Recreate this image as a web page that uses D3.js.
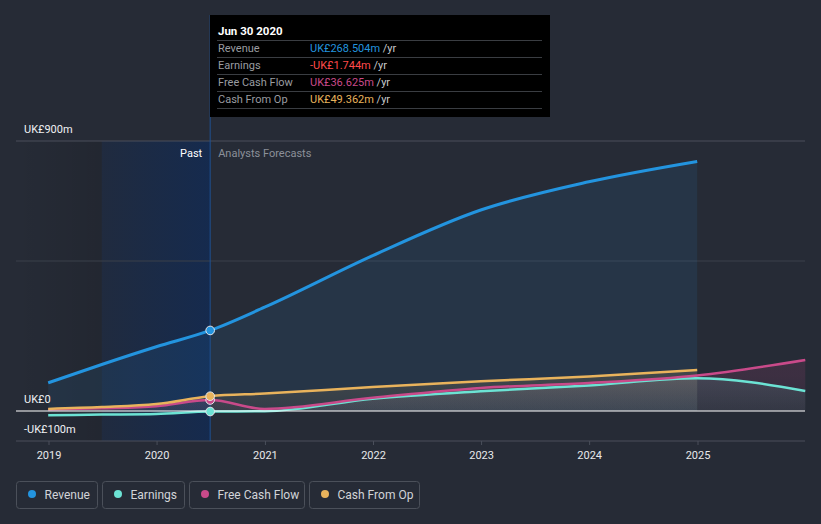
<!DOCTYPE html>
<html><head><meta charset="utf-8">
<script src="https://cdn.jsdelivr.net/npm/d3@7"></script>
<style>
html,body{margin:0;padding:0;background:#262b36;}
svg{display:block;font-family:Roboto,"Open Sans",sans-serif;}
</style></head>
<body>
<svg id="chart" width="821" height="524"></svg>
<script>
// ---- data ----
const revenueDates = ["2018-12-31","2019-06-30","2019-12-31","2020-06-30","2020-12-31","2021-12-31","2022-12-31","2023-12-31","2024-12-31"];
const revenueValues = [94, 155, 214, 268.504, 346, 518, 670, 764, 832];
const earningsDates = ["2018-12-31","2019-06-30","2019-12-31","2020-06-30","2020-12-31","2021-12-31","2022-12-31","2023-12-31","2024-12-31","2025-12-31"];
const earningsValues = [-14, -12, -10, -1.744, -1, 41, 66, 85, 109, 67];
const fcfDates = ["2018-12-31","2019-06-30","2019-12-31","2020-06-30","2020-12-31","2021-12-31","2022-12-31","2023-12-31","2024-12-31","2025-12-31"];
const fcfValues = [5, 9, 16, 36.625, 7, 44, 77, 93, 118, 170];
const cashOpDates = ["2018-12-31","2019-06-30","2019-12-31","2020-06-30","2020-12-31","2021-12-31","2022-12-31","2023-12-31","2024-12-31"];
const cashOpValues = [7, 13, 23, 49.362, 58, 80, 99, 115, 137];
const xTickYears = [2019, 2020, 2021, 2022, 2023, 2024, 2025];
const yTickValues = [900, 0, -100];
const yTickLabels = ["UK£900m", "UK£0", "-UK£100m"];
const seriesNames = ["Revenue", "Earnings", "Free Cash Flow", "Cash From Op"];
const seriesColors = ["#2394df", "#6ce3d4", "#c94a8a", "#e9b35c"];
const tooltipTitle = "Jun 30 2020";
const tooltipValues = ["UK£268.504m", "-UK£1.744m", "UK£36.625m", "UK£49.362m"];
const tooltipValueColors = ["#2394df", "#ff4a4a", "#c94a8a", "#e9b35c"];

const parse = d3.timeParse("%Y-%m-%d");
const mk = (ds, vs) => ds.map((d, i) => ({date: parse(d), value: vs[i]}));
const series = [
  mk(revenueDates, revenueValues),
  mk(earningsDates, earningsValues),
  mk(fcfDates, fcfValues),
  mk(cashOpDates, cashOpValues)
];
const nowDate = parse("2020-06-30");
const pastStart = parse("2019-06-30");

// ---- scales ----
const x = d3.scaleTime().domain([new Date(2019,0,1), new Date(2025,0,1)]).range([48.5, 697.5]);
const y = d3.scaleLinear().domain([-100, 900]).range([441, 141]);
const left = 16, right = 805;

const svg = d3.select("#chart");
const defs = svg.append("defs");

// past highlight gradient
const pg = defs.append("linearGradient").attr("id","pastGrad").attr("x1","0").attr("x2","1").attr("y1","0").attr("y2","0");
pg.append("stop").attr("offset","0").attr("stop-color","#0a2a5e").attr("stop-opacity",0.22);
pg.append("stop").attr("offset","1").attr("stop-color","#0a2a5e").attr("stop-opacity",0.6);
const dg = defs.append("linearGradient").attr("id","darkGrad").attr("x1","0").attr("x2","1").attr("y1","0").attr("y2","0");
dg.append("stop").attr("offset","0").attr("stop-color","#000").attr("stop-opacity",0.0);
dg.append("stop").attr("offset","1").attr("stop-color","#000").attr("stop-opacity",0.1);

svg.append("rect").attr("x", left).attr("y", 141).attr("width", x(pastStart) - left).attr("height", 300).attr("fill","url(#darkGrad)");
svg.append("rect").attr("x", x(pastStart)).attr("y", 141).attr("width", x(nowDate) - x(pastStart)).attr("height", 300).attr("fill","url(#pastGrad)");

// grid lines
[900, 500].forEach(v => {
  svg.append("line").attr("x1", left).attr("x2", right).attr("y1", y(v)).attr("y2", y(v))
    .attr("stroke", v === 900 ? "#4a4f5b" : "#3b404b").attr("stroke-width", 1);
});

// area fills
series.forEach((s, i) => {
  let fill;
  if (i === 0) {
    fill = seriesColors[0];
  } else {
    const gid = "g" + i;
    const g = defs.append("linearGradient").attr("id", gid).attr("gradientUnits","userSpaceOnUse")
      .attr("x1",0).attr("x2",0).attr("y1", y(120)).attr("y2", y(0));
    g.append("stop").attr("offset","0").attr("stop-color", seriesColors[i]).attr("stop-opacity", 0.14);
    g.append("stop").attr("offset","1").attr("stop-color", seriesColors[i]).attr("stop-opacity", 0.06);
    fill = "url(#" + gid + ")";
  }
  const area = d3.area().x(d => x(d.date)).y0(y(0)).y1(d => y(d.value)).curve(d3.curveMonotoneX);
  svg.append("path").datum(s).attr("d", area).attr("fill", fill).attr("fill-opacity", i === 0 ? 0.1 : 1);
});

// lines
const drawOrder = [1, 2, 3, 0];
drawOrder.forEach(i => {
  const line = d3.line().x(d => x(d.date)).y(d => y(d.value)).curve(d3.curveMonotoneX);
  svg.append("path").datum(series[i]).attr("d", line).attr("fill","none")
    .attr("stroke", seriesColors[i]).attr("stroke-width", i === 0 ? 3 : 2.5).attr("stroke-linecap","butt");
});

// zero line
svg.append("line").attr("x1", left).attr("x2", right).attr("y1", y(0)).attr("y2", y(0)).attr("stroke","#ffffff").attr("stroke-width",1.2);

// x axis
const xAxis = d3.axisBottom(x).tickValues(xTickYears.map(yr => new Date(yr,0,1))).tickFormat(d3.timeFormat("%Y")).tickSize(4).tickPadding(6);
const gx = svg.append("g").attr("transform", `translate(0,${y(-100)})`).call(xAxis);
gx.select(".domain").remove();
gx.selectAll(".tick line").attr("stroke","#4a4f5b");
gx.selectAll(".tick text").attr("fill","#e8e9eb").attr("font-size", 11).attr("font-family","Roboto,sans-serif");
svg.append("line").attr("x1", left).attr("x2", right).attr("y1", y(-100)).attr("y2", y(-100)).attr("stroke","#4a4f5b").attr("stroke-width",1);

// y labels
yTickValues.forEach((v, i) => {
  svg.append("text").attr("x", 24).attr("y", y(v) - 8).attr("fill","#f0f1f3").attr("font-size", 11)
    .text(yTickLabels[i]);
});

// now line
svg.append("line").attr("x1", x(nowDate)).attr("x2", x(nowDate)).attr("y1", 15).attr("y2", y(-100))
  .attr("stroke","#1f5190").attr("stroke-width",1);

// Past / forecasts labels
svg.append("text").attr("x", x(nowDate) - 8).attr("y", 157).attr("text-anchor","end").attr("fill","#ffffff").attr("font-size",11).text("Past");
svg.append("text").attr("x", x(nowDate) + 8).attr("y", 157).attr("fill","#8b9099").attr("font-size",11).text("Analysts Forecasts");

// markers at now
[0, 1, 2, 3].forEach(i => {
  const pt = series[i].find(d => +d.date === +nowDate);
  svg.append("circle").attr("cx", x(pt.date)).attr("cy", y(pt.value)).attr("r", 4.3)
    .attr("fill", seriesColors[i]).attr("stroke","#e6e8ec").attr("stroke-width",1);
});

// tooltip
const tt = svg.append("g");
tt.append("rect").attr("x", 210).attr("y", 15).attr("width", 340).attr("height", 102).attr("fill","#000");
tt.append("text").attr("x", 218).attr("y", 35).attr("fill","#fff").attr("font-size",11.5).attr("font-weight","bold").text(tooltipTitle);
[40, 57, 74, 91, 108].forEach(yy => {
  tt.append("line").attr("x1", 217).attr("x2", 542).attr("y1", yy + 0.5).attr("y2", yy + 0.5).attr("stroke","#3a3d42").attr("stroke-width",1);
});
seriesNames.forEach((n, i) => {
  const by = 52 + i * 17;
  tt.append("text").attr("x", 218).attr("y", by).attr("fill","#9a9ca0").attr("font-size",11).text(n);
  const t = tt.append("text").attr("x", 310).attr("y", by).attr("font-size",11);
  t.append("tspan").attr("fill", tooltipValueColors[i]).text(tooltipValues[i]);
  t.append("tspan").attr("fill","#c8c9cc").text(" /yr");
});

// legend
const legendBoxes = [[16.5, 81], [102.5, 82], [189.5, 115], [309.5, 110]];
seriesNames.forEach((n, i) => {
  const [lx, lw] = legendBoxes[i];
  const g = svg.append("g");
  g.append("rect").attr("x", lx).attr("y", 481.5).attr("width", lw).attr("height", 27).attr("rx", 3)
    .attr("fill","none").attr("stroke","#4b505a").attr("stroke-width",1);
  g.append("circle").attr("cx", lx + 15.5).attr("cy", 494).attr("r", 4).attr("fill", seriesColors[i]);
  g.append("text").attr("x", lx + 28).attr("y", 498.5).attr("fill","#d2d4d8").attr("font-size",12).text(n);
});
</script>
</body></html>
